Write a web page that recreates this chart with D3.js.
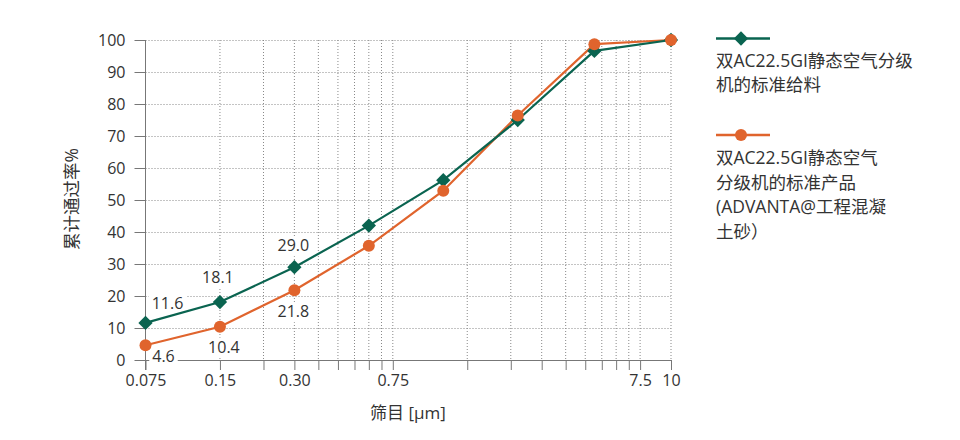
<!DOCTYPE html>
<html>
<head>
<meta charset="utf-8">
<script src="https://cdn.jsdelivr.net/npm/d3@7/dist/d3.min.js"></script>
<style>
  html, body { margin: 0; padding: 0; background: #fff; }
  svg { display: block; font-family: "Open Sans", "Noto Sans CJK SC", sans-serif; }
</style>
</head>
<body>
<svg id="chart" width="960" height="440"></svg>
<script>
const sieveSizes = [0.075, 0.15, 0.3, 0.6, 1.2, 2.4, 4.9, 10];
const feedValues = [11.6, 18.1, 29.0, 42.0, 56.2, 75.0, 96.6, 100];
const productValues = [4.6, 10.4, 21.8, 35.7, 52.9, 76.4, 98.7, 100];
const feedLabels = [{i: 0, text: "11.6", dx: 22, dy: -20}, {i: 1, text: "18.1", dx: -2, dy: -25}, {i: 2, text: "29.0", dx: -1, dy: -22}];
const productLabels = [{i: 0, text: "4.6", dx: 18, dy: 11}, {i: 1, text: "10.4", dx: 4, dy: 20}, {i: 2, text: "21.8", dx: -1, dy: 21}];
const xTickLabels = [0.075, 0.15, 0.3, 0.75, 7.5, 10];
const xTickText = ["0.075", "0.15", "0.30", "0.75", "7.5", "10"];
const xGridTicks = [0.075, 0.15, 0.225, 0.3, 0.375, 0.45, 0.525, 0.6, 0.675, 0.75,
                    1.5, 2.25, 3.0, 3.75, 4.5, 5.25, 6.0, 6.75, 7.5, 10];
const yTicks = [0, 10, 20, 30, 40, 50, 60, 70, 80, 90, 100];
const legendFeed = ["双AC22.5GI静态空气分级", "机的标准给料"];
const legendProduct = ["双AC22.5GI静态空气", "分级机的标准产品", "(ADVANTA@工程混凝", "土砂）"];
const xTitle = "筛目 [µm]";
const yTitle = "累计通过率%";

const GREEN = "#0a6450";
const ORANGE = "#e0642d";
const TEXT = "#333";
const AXIS = "#777";

const svg = d3.select("#chart");
const x = d3.scaleLog().domain([0.075, 10]).range([145.5, 671]);
const y = d3.scaleLinear().domain([0, 100]).range([360, 40]);

// grid
const grid = svg.append("g");
grid.selectAll("line.h").data(yTicks.filter(d => d > 0)).join("line")
  .attr("x1", x(0.075)).attr("x2", x(10))
  .attr("y1", d => Math.round(y(d)) + 0.5).attr("y2", d => Math.round(y(d)) + 0.5)
  .attr("stroke", "#888").attr("stroke-dasharray", "1,2").attr("stroke-width", 1);
grid.selectAll("line.v").data(xGridTicks.slice(1)).join("line")
  .attr("x1", d => x(d)).attr("x2", d => x(d))
  .attr("y1", y(100)).attr("y2", y(0))
  .attr("stroke", "#888").attr("stroke-dasharray", "1,2").attr("stroke-width", 1);

// y axis
const yAxis = svg.append("g").attr("transform", `translate(${x(0.075)},0)`)
  .call(d3.axisLeft(y).tickValues(yTicks).tickSize(11).tickPadding(9).tickSizeOuter(0));
yAxis.select(".domain").attr("stroke", AXIS).attr("d", `M0,${y(100)}V${y(0) + 10}`);
yAxis.selectAll(".tick line").attr("stroke", AXIS);
yAxis.selectAll(".tick text").attr("fill", TEXT).style("font-size", "16px").style("font-family", "Open Sans");

// x axis
const xAxis = svg.append("g").attr("transform", `translate(0,${y(0)})`)
  .call(d3.axisBottom(x).tickValues(xGridTicks).tickSize(10).tickPadding(5).tickSizeOuter(0)
    .tickFormat(d => { const k = xTickLabels.findIndex(v => Math.abs(v - d) < 1e-9); return k >= 0 ? xTickText[k] : ""; }));
xAxis.select(".domain").attr("stroke", AXIS);
xAxis.selectAll(".tick line").attr("stroke", AXIS);
xAxis.selectAll(".tick text").attr("fill", TEXT).style("font-size", "16px").style("font-family", "Open Sans");

// titles
svg.append("text").attr("x", 408).attr("y", 419).attr("text-anchor", "middle")
  .attr("fill", TEXT).style("font-size", "17px").text(xTitle);
svg.append("text").attr("transform", "translate(78,199) rotate(-90)").attr("text-anchor", "middle")
  .attr("fill", TEXT).style("font-size", "17.5px").text(yTitle);

// data labels with white background
function addLabels(labels, values) {
  labels.forEach(l => {
    const cx = x(sieveSizes[l.i]) + l.dx;
    const cy = y(values[l.i]) + l.dy;
    const g = svg.append("g");
    const t = g.append("text").attr("x", cx).attr("y", cy).attr("text-anchor", "middle")
      .attr("dominant-baseline", "central").attr("fill", TEXT).style("font-size", "16px").text(l.text);
    const bb = t.node().getBBox();
    g.insert("rect", "text").attr("x", bb.x - 3).attr("y", bb.y + 2).attr("width", bb.width + 6).attr("height", bb.height - 2)
      .attr("fill", "#fff");
  });
}
addLabels(feedLabels, feedValues);
addLabels(productLabels, productValues);

// lines
const lineGen = vals => d3.line().x((d, i) => x(sieveSizes[i])).y(d => y(d))(vals);
svg.append("path").attr("d", lineGen(productValues)).attr("fill", "none").attr("stroke", ORANGE).attr("stroke-width", 2.2);
svg.append("path").attr("d", lineGen(feedValues)).attr("fill", "none").attr("stroke", GREEN).attr("stroke-width", 2.2);

const diamond = d3.symbol().type(d3.symbolDiamond2).size(130);
svg.selectAll("path.feed").data(feedValues).join("path")
  .attr("transform", (d, i) => `translate(${x(sieveSizes[i])},${y(d)})`)
  .attr("d", diamond).attr("fill", GREEN);
svg.selectAll("circle.prod").data(productValues).join("circle")
  .attr("cx", (d, i) => x(sieveSizes[i])).attr("cy", d => y(d)).attr("r", 6).attr("fill", ORANGE);

// legend
const lg = svg.append("g");
lg.append("line").attr("x1", 716).attr("x2", 770).attr("y1", 38.5).attr("y2", 38.5).attr("stroke", GREEN).attr("stroke-width", 2.5);
lg.append("path").attr("transform", "translate(741,38.5)").attr("d", diamond).attr("fill", GREEN);
legendFeed.forEach((s, i) => lg.append("text").attr("x", 716).attr("y", 60 + i * 23.5).attr("dominant-baseline", "central")
  .attr("fill", TEXT).style("font-size", "17.5px").text(s));
lg.append("line").attr("x1", 716).attr("x2", 770).attr("y1", 135).attr("y2", 135).attr("stroke", ORANGE).attr("stroke-width", 2.5);
lg.append("circle").attr("cx", 741).attr("cy", 135).attr("r", 6).attr("fill", ORANGE);
legendProduct.forEach((s, i) => lg.append("text").attr("x", 716).attr("y", 157 + i * 24.6).attr("dominant-baseline", "central")
  .attr("fill", TEXT).style("font-size", "17.5px").text(s));
</script>
</body>
</html>
